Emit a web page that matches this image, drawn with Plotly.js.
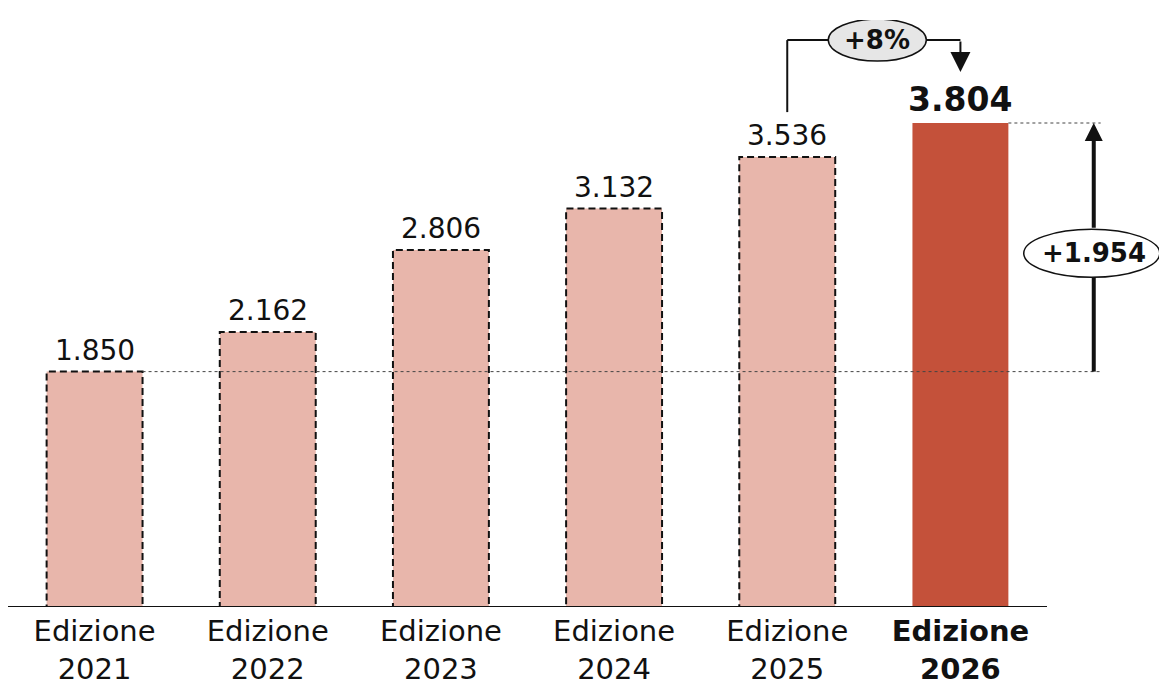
<!DOCTYPE html>
<html>
<head>
<meta charset="utf-8">
<script src="https://cdn.plot.ly/plotly-3.0.1.min.js"></script>
<style>html,body{margin:0;padding:0;background:#fff}#chart{width:1159px;height:690px}</style>
</head>
<body>
<div id="chart"></div>
<script>
// ---- data ----
const categories = ["Edizione 2021", "Edizione 2022", "Edizione 2023", "Edizione 2024", "Edizione 2025", "Edizione 2026"];
const tickLabels = ["Edizione<br>2021", "Edizione<br>2022", "Edizione<br>2023", "Edizione<br>2024", "Edizione<br>2025", "<b>Edizione<br>2026</b>"];
const values = [1850, 2162, 2806, 3132, 3536, 3804];
const growthLabel = "+8%";
const diffLabel = "+1.954";

// ---- styling ----
const FONT = "DejaVu Sans, Open Sans, sans-serif";
const pale = "#E8B6AB", red = "#C4513A";
const W = 1159, H = 690;
const M = {l: 8, r: 0, t: 20, b: 83};
const plotW = W - M.l - M.r, plotH = H - M.t - M.b;
const n = categories.length;
const slot = 1039 / n;                       // pixel width per category
const xMax = -0.5 + plotW / slot;
const last = n - 1;
const pxPerUnit = 484 / values[last];
const yMax = plotH / pxPerUnit;
const px = p => p / pxPerUnit;               // pixel offset -> data units
const hw = 0.277;                             // half bar width
const fmt = v => String(v).replace(/\B(?=(\d{3})+(?!\d))/g, ".");

const colors = values.map((_, i) => i === last ? red : pale);

const trace = {
  type: "bar", x: categories, y: values, width: 2 * hw,
  marker: {color: colors, line: {width: 0}},
  hoverinfo: "skip"
};

const shapes = [];
// dashed outlines for past editions
values.forEach((v, i) => {
  if (i === last) return;
  shapes.push({type: "rect", xref: "x", yref: "y", x0: i - hw, x1: i + hw, y0: 0, y1: v,
    line: {color: "#111", width: 2, dash: "7px,4px"}, fillcolor: "rgba(0,0,0,0)", layer: "above"});
});
// baseline
shapes.push({type: "line", xref: "x", yref: "y", x0: -0.5, x1: n - 0.5, y0: 0, y1: 0,
  line: {color: "#111", width: 2}});
// reference dashed lines
const refX = n - 0.5 + 0.31;
shapes.push({type: "line", xref: "x", yref: "y", x0: hw, x1: refX, y0: values[0], y1: values[0],
  line: {color: "#444", width: 1, dash: "3px,3px"}});
shapes.push({type: "line", xref: "x", yref: "y", x0: last + hw, x1: refX, y0: values[last], y1: values[last],
  line: {color: "#444", width: 1, dash: "3px,3px"}});
// bracket (+8%)
const bTop = values[last - 1] + px(117);
const bx0 = last - 1, bx1 = last;
const ellCx = (bx0 + bx1) / 2 + 0.02;
shapes.push({type: "line", xref: "x", yref: "y", x0: bx0, x1: bx0, y0: values[last - 1] + px(45), y1: bTop,
  line: {color: "#111", width: 2}});
shapes.push({type: "line", xref: "x", yref: "y", x0: bx0, x1: bx1, y0: bTop, y1: bTop,
  line: {color: "#111", width: 2}});
shapes.push({type: "circle", xref: "x", yref: "y", xsizemode: "pixel", ysizemode: "pixel",
  xanchor: ellCx, yanchor: bTop, x0: -49, x1: 49, y0: -21, y1: 21,
  fillcolor: "#E6E6E6", line: {color: "#111", width: 1.5}});
// vertical difference arrow + ellipse
const arrX = last + 0.77;
const midY = (values[0] + values[last]) / 2 - px(6);
shapes.push({type: "line", xref: "x", yref: "y", x0: arrX, x1: arrX, y0: values[0], y1: midY,
  line: {color: "#111", width: 4}});
shapes.push({type: "circle", xref: "x", yref: "y", xsizemode: "pixel", ysizemode: "pixel",
  xanchor: arrX, yanchor: midY, x0: -70, x1: 66, y0: -24, y1: 24,
  fillcolor: "#fff", line: {color: "#111", width: 1.5}, layer: "above"});

const annotations = [];
values.forEach((v, i) => {
  const bold = i === last;
  annotations.push({xref: "x", yref: "y", x: i, y: v, yanchor: "bottom", showarrow: false,
    yshift: bold ? 2 : 3,
    text: bold ? "<b>" + fmt(v) + "</b>" : fmt(v),
    font: {family: FONT, size: bold ? 33 : 28, color: "#111"}});
});
// bracket arrow down
annotations.push({xref: "x", yref: "y", axref: "x", ayref: "y", x: bx1, y: values[last] + px(51),
  ax: bx1, ay: bTop, showarrow: true, arrowhead: 2, arrowsize: 2, arrowwidth: 2, arrowcolor: "#111",
  standoff: 0, text: ""});
annotations.push({xref: "x", yref: "y", x: ellCx, y: bTop, showarrow: false,
  text: "<b>" + growthLabel + "</b>", font: {family: FONT, size: 26, color: "#111"}});
// vertical arrow (upper part, above ellipse)
annotations.push({xref: "x", yref: "y", axref: "x", ayref: "y", x: arrX, y: values[last],
  ax: arrX, ay: midY + px(24), showarrow: true, arrowhead: 2, arrowsize: 0.9, arrowwidth: 4, arrowcolor: "#111",
  standoff: 0, text: ""});
annotations.push({xref: "x", yref: "y", x: arrX, y: midY, showarrow: false,
  text: "<b>" + diffLabel + "</b>", font: {family: FONT, size: 26, color: "#111"}});

const layout = {
  width: W, height: H, margin: M,
  paper_bgcolor: "#fff", plot_bgcolor: "#fff",
  showlegend: false,
  font: {family: FONT, color: "#111"},
  xaxis: {type: "category", range: [-0.5, xMax], tickvals: categories, ticktext: tickLabels,
    showgrid: false, zeroline: false, showline: false, ticks: "", ticklabelstandoff: 4,
    tickfont: {family: FONT, size: 29, color: "#111"}, fixedrange: true},
  yaxis: {range: [0, yMax], visible: false, showgrid: false, zeroline: false, fixedrange: true},
  shapes: shapes, annotations: annotations
};

Plotly.newPlot("chart", [trace], layout, {displayModeBar: false, staticPlot: true});
</script>
</body>
</html>
